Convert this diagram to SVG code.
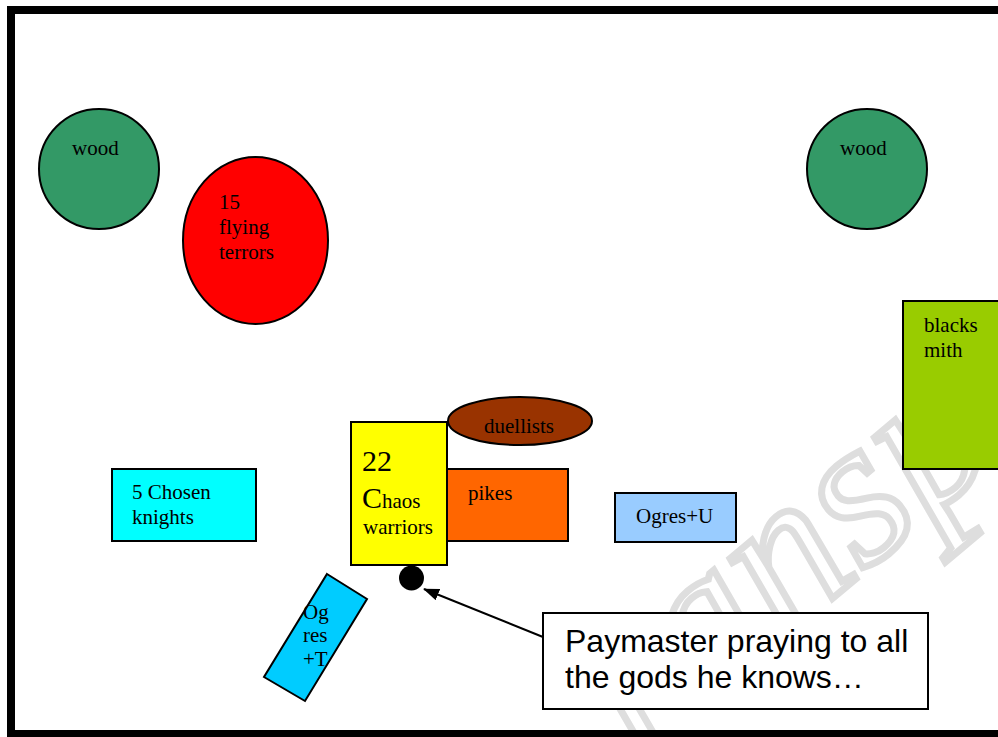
<svg xmlns="http://www.w3.org/2000/svg" width="998" height="737" viewBox="0 0 998 737">
<defs>
<style>
.s{stroke:#000;stroke-width:2}
.t{font-family:"Liberation Serif","Times New Roman",serif;font-size:21px;fill:#000}
.big{font-size:30px}
.a{font-family:"Liberation Sans",Arial,sans-serif;font-size:32px;fill:#000}
</style>
<marker id="ah" markerWidth="16" markerHeight="12" refX="15" refY="6" orient="auto" markerUnits="userSpaceOnUse">
<path d="M0,0 L16,6 L0,12 z" fill="#000"/>
</marker>
<clipPath id="dc"><rect x="440" y="395" width="160" height="38"/></clipPath>
</defs>
<rect x="0" y="0" width="998" height="737" fill="#fff"/>
<g id="watermark">
<text x="0" y="0" transform="translate(640,760) rotate(-40)" font-family="Liberation Serif,serif" font-style="italic" font-size="210" fill="none" stroke="#dedede" stroke-width="7">ransp</text>
</g>
<rect id="frame" x="11" y="10" width="1000" height="724" fill="none" stroke="#000" stroke-width="8"/>
<g id="wood1"><circle cx="99" cy="169" r="60" fill="#339966" class="s"/><text class="t" x="72" y="155">wood</text></g>
<g id="wood2"><circle cx="867" cy="169" r="60" fill="#339966" class="s"/><text class="t" x="840" y="155">wood</text></g>
<g id="terrors"><ellipse cx="255.5" cy="240.5" rx="72.5" ry="83.5" fill="#ff0000" class="s"/>
<text class="t" x="219" y="209">15</text><text class="t" x="219" y="234">flying</text><text class="t" x="219" y="259">terrors</text></g>
<g id="blacksmith"><rect x="903" y="301" width="110" height="168" fill="#99cc00" class="s"/>
<text class="t" x="924" y="332">blacks</text><text class="t" x="924" y="357">mith</text></g>
<g id="duellists"><ellipse cx="520" cy="421" rx="72" ry="24" fill="#993300" class="s"/>
<text class="t" x="519" y="433" text-anchor="middle" clip-path="url(#dc)">duellists</text></g>
<g id="knights"><rect x="112" y="469" width="144" height="72" fill="#00ffff" class="s"/>
<text class="t" x="132" y="499">5 Chosen</text><text class="t" x="132" y="524">knights</text></g>
<g id="pikes"><rect x="447" y="469" width="121" height="72" fill="#ff6600" class="s"/>
<text class="t" x="468" y="500">pikes</text></g>
<g id="chaos"><rect x="351" y="422" width="96" height="143" fill="#ffff00" class="s"/>
<text class="t big" x="362" y="471">22</text>
<text class="t" x="362" y="508"><tspan class="big">C</tspan>haos</text>
<text class="t" x="363" y="534">warriors</text></g>
<g id="ogresU"><rect x="615" y="493" width="121" height="49" fill="#99ccff" class="s"/>
<text class="t" x="636" y="523">Ogres+U</text></g>
<g id="ogresT"><polygon points="327,574 367,599 305,701 264,677" fill="#00ccff" class="s"/>
<text class="t" x="303" y="619">Og</text><text class="t" x="303" y="642">res</text><text class="t" x="303" y="666">+T</text></g>
<g id="paymaster"><circle cx="411.5" cy="578" r="12.5" fill="#000"/></g>
<g id="connectors"><line x1="543" y1="637" x2="424" y2="589" stroke="#000" stroke-width="2" marker-end="url(#ah)"/></g>
<g id="callout"><rect x="543" y="613" width="385" height="96" fill="#fff" class="s"/>
<text class="a" x="565" y="652">Paymaster praying to all</text><text class="a" x="565" y="688">the gods he knows…</text></g>
</svg>
